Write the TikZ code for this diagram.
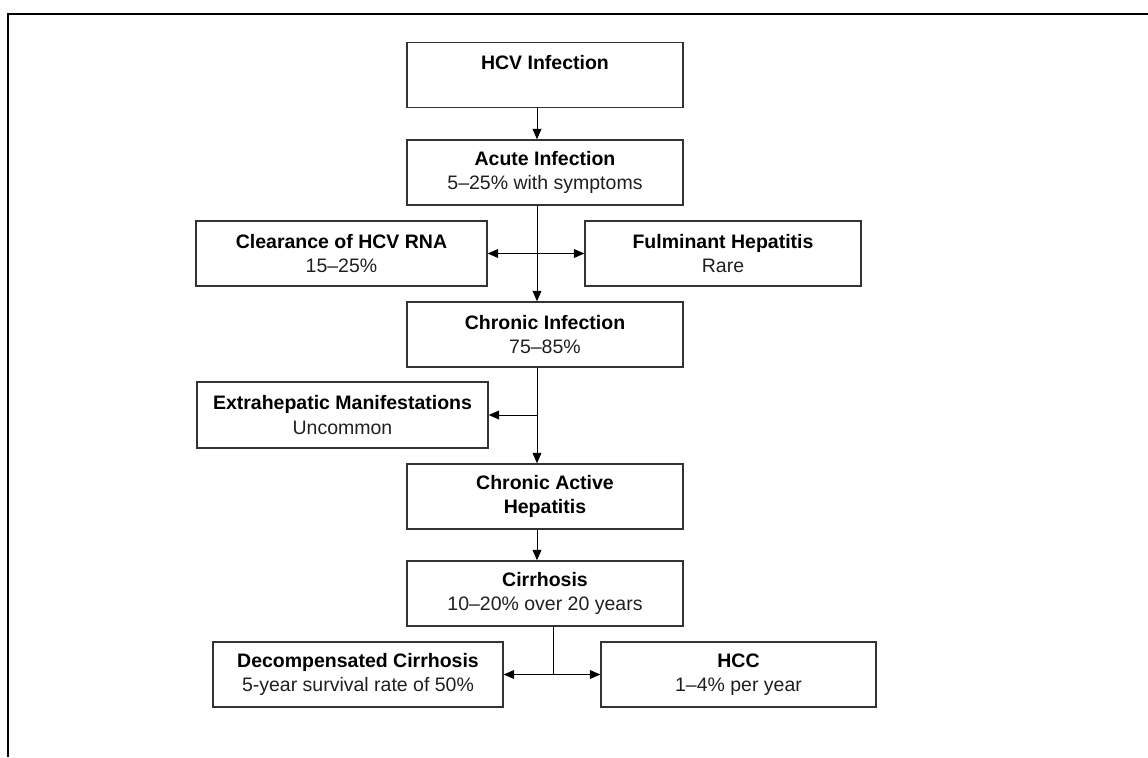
\documentclass[tikz,border=0pt]{standalone}
\usepackage{fontspec}
\setmainfont{Liberation Sans}
\usetikzlibrary{arrows.meta}
\begin{document}
\begin{tikzpicture}[x=0.5pt,y=-0.5pt,
  box/.style={draw=black!80, line width=0.7pt, rectangle, minimum height=32.5pt,
    align=center, font=\fontsize{9.75}{12.2}\selectfont, inner sep=0pt, text=black!88},
  wbox/.style={box, minimum width=138pt},
  arr/.style={line width=0.5pt, -{Triangle[length=5.2pt,width=4.4pt]}},
  darr/.style={line width=0.5pt, {Triangle[length=5.2pt,width=4.4pt]}-{Triangle[length=5.2pt,width=4.4pt]}},
  plain/.style={line width=0.5pt},
  framel/.style={line width=1pt}]
\useasboundingbox (0,0) rectangle (1148,757);
% outer frame (only top and left sides visible)
\coordinate (fr0) at (8,757);
\coordinate (fr1) at (8,14);
\coordinate (fr2) at (1150,14);
\draw[framel] (fr0) -- (fr1) -- (fr2);

\node[wbox] (hcv) at (545,75) {\textbf{\color{black}HCV Infection}\\\mbox{}};
\node[wbox] (acute) at (545,172.5) {\textbf{\color{black}Acute Infection}\\5--25\% with symptoms};
\node[box, minimum width=145.5pt] (clear) at (341.5,253.5) {\textbf{\color{black}Clearance of HCV RNA}\\15--25\%};
\node[wbox] (fulm) at (723,253.5) {\textbf{\color{black}Fulminant Hepatitis}\\Rare};
\node[wbox] (chronic) at (545,334.5) {\textbf{\color{black}Chronic Infection}\\75--85\%};
\node[box, minimum width=145.5pt, minimum height=33pt] (extra) at (342.5,415) {\textbf{\color{black}Extrahepatic Manifestations}\\Uncommon};
\node[wbox] (active) at (545,496.5) {\textbf{\color{black}Chronic Active}\\\textbf{\color{black}Hepatitis}};
\node[wbox] (cirr) at (545,593.5) {\textbf{\color{black}Cirrhosis}\\10--20\% over 20 years};
\node[box, minimum width=145pt] (decomp) at (358,674.5) {\textbf{\color{black}Decompensated Cirrhosis}\\5-year survival rate of 50\%};
\node[box, minimum width=137.5pt] (hcc) at (738.5,674.5) {\textbf{\color{black}HCC}\\1--4\% per year};

% main spine
\coordinate (mx) at (537,0);
\draw[arr] (hcv.south -| mx) -- (acute.north -| mx);
\draw[arr] (acute.south -| mx) -- (chronic.north -| mx);
\draw[darr] (clear.east) -- (fulm.west);
\draw[arr] (chronic.south -| mx) -- (active.north -| mx);
\draw[arr] (extra.east -| mx) -- (extra.east);
\draw[arr] (active.south -| mx) -- (cirr.north -| mx);
% lower split
\coordinate (split) at (553,674.5);
\draw[plain] (cirr.south -| split) -- (split);
\draw[darr] (decomp.east) -- (hcc.west);
\end{tikzpicture}
\end{document}
